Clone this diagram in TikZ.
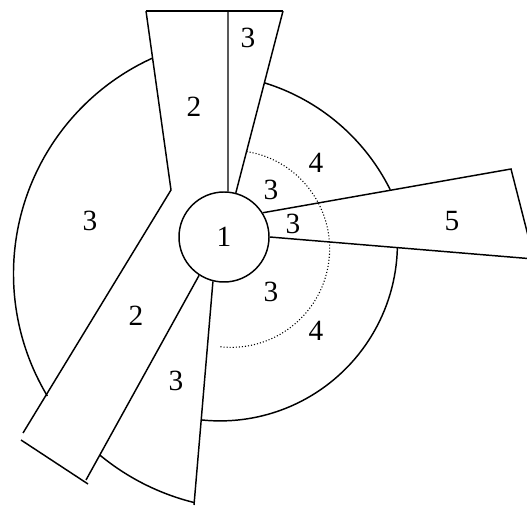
\documentclass[tikz,border=0pt]{standalone}
\usepackage{fontspec}
\setmainfont{Liberation Serif}
\usetikzlibrary{calc}

\begin{document}
\begin{tikzpicture}[
    x=0.75pt, y=0.75pt,
    font=\fontsize{22}{24}\selectfont,
    edge/.style={line width=1.1pt},
    guide/.style={line width=0.8pt, dash pattern=on 0.8pt off 1.5pt},
    lbl/.style={inner sep=0pt}
]
\useasboundingbox (0,0) rectangle (527,506);
\clip (0,0) rectangle (527,506);
\node[draw, edge, circle, minimum size=67.5pt, inner sep=0pt] (hub) at (224,269) {1};
\coordinate (tl) at (146,495);
\coordinate (tm) at (228,495);
\coordinate (tr) at (283,495);
\coordinate (lb) at (171,316);
\coordinate (ll) at (23,73);
\coordinate (lr) at (86,26);
\coordinate (bl) at (21,66);
\coordinate (br) at (88,22);
\coordinate (ls) at (194,1);
\coordinate (wu) at (511,337);
\coordinate (wd) at (534,247);
\draw[edge] (tl) -- (tr);
\draw[edge] (tm) -- (hub.85);
\draw[edge] (tr) -- (hub.75);
\draw[edge] (tl) -- (lb) -- (ll);
\draw[edge] (bl) -- (br);
\draw[edge] (hub.237) -- (lr);
\draw[edge] (hub.256) -- (ls);
\draw[edge] (hub.32) -- (wu) -- (wd) -- (hub.0);
\draw[edge] ($(tl)!0.263!(lb)$) arc[start angle=114.4, end angle=211, radius=237];
\draw[edge] ($(hub.237)!0.878!(lr)$) arc[start angle=230.4, end angle=256.1, radius=237];
\draw[edge] ($(tr)!0.395!(hub.75)$) arc[start angle=72.9, end angle=26.4, radius=209.2];
\draw[edge] ($(hub.0)!0.483!(wd)$) arc[start angle=-1.3, end angle=-96, radius=177.3];
\draw[guide] ($(tr)!0.773!(hub.75)$) arc[start angle=81, end angle=-97.3, radius=98.5];
\node[lbl] (top3) at (248,468) {3};
\node[lbl] (top2) at (194,399) {2};
\node[lbl] (left3) at (90,285) {3};
\node[lbl] (low2) at (136,190) {2};
\node[lbl] (low3) at (176,125) {3};
\node[lbl] (up4) at (316,343) {4};
\node[lbl] (in3a) at (271,316) {3};
\node[lbl] (in3b) at (293,282) {3};
\node[lbl] (wedge5) at (452,285) {5};
\node[lbl] (in3c) at (271,214) {3};
\node[lbl] (down4) at (316,175) {4};
\end{tikzpicture}
\end{document}
